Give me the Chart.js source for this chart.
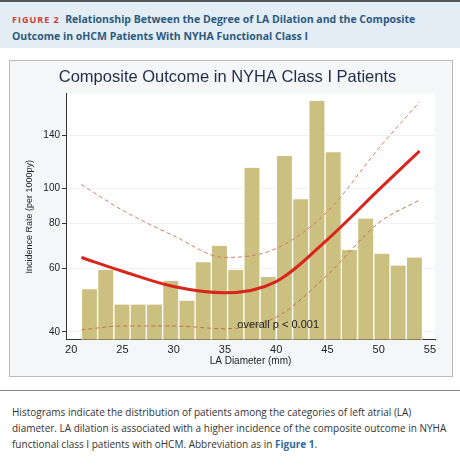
<!DOCTYPE html>
<html><head><meta charset="utf-8">
<script src="https://cdn.jsdelivr.net/npm/chart.js@4"></script>
<style>
body{margin:0;width:460px;height:474px;background:#fff;font-family:"Open Sans",sans-serif;position:relative;overflow:hidden}
#hdr{position:absolute;left:0;top:0;width:460px;height:46px;background:#e3edf5;border-top:2px solid #555}
#hdr div{position:absolute;left:12px;top:9px;font:bold 10.5px "Open Sans",sans-serif;color:#2c5a7e;line-height:16px}
#hdr span{color:#d23a3a;letter-spacing:1px;font-size:9px}
#panel{position:absolute;left:9px;top:60px;width:442px;height:315px;border:1px solid #bbb;background:#f4f6f8}
#cv{position:absolute;left:20px;top:62px}
#cap{position:absolute;left:12px;top:404px;width:440px;font:10px "Open Sans",sans-serif;color:#333;line-height:16px}
#cap b{color:#2c6aa0}
#line{position:absolute;left:0;top:390px;width:460px;border-top:1px solid #888}
</style></head><body>
<div id="hdr"><div><span>FIGURE 2</span>&nbsp; Relationship Between the Degree of LA Dilation and the Composite<br>Outcome in oHCM Patients With NYHA Functional Class I</div></div>
<div id="panel"></div>
<canvas id="cv" width="420" height="305"></canvas>
<div id="line"></div>
<div id="cap">Histograms indicate the distribution of patients among the categories of left atrial (LA) diameter. LA dilation is associated with a higher incidence of the composite outcome in NYHA functional class I patients with oHCM. Abbreviation as in <b>Figure 1</b>.</div>
<script>
const barStart = 21, barWidth = 1.585;
const barValues = [52.5,59.4,47.6,47.6,47.6,55.4,48.8,62.4,69.3,59.4,114,56.8,123,93.3,175,126,67.5,82.5,65.9,61.1,64.3];
const curveX = [21,25,30,35,40,45,50,54];
const fitY = [64.3,58.9,53.4,51.3,55.1,72.1,99,127];
const upperY = [102.5,87,73.9,64.3,68.1,86.2,129,174];
const lowerY = [40.5,41.5,41.5,40.8,43.9,57.5,80.2,92.9];
const yTicks = [40,60,80,100,140];
const xTicks = [20,25,30,35,40,45,50,55];

const bars = barValues.map((v,i)=>({x:barStart+barWidth*(i+0.5),y:v}));
const pts = a=>curveX.map((x,i)=>({x,y:a[i]}));
const ann = {id:'ann',afterDatasetsDraw(c){const g=c.ctx,xs=c.scales.x,ys=c.scales.y;g.save();g.font='11px Liberation Sans, Arial';g.fillStyle='#222';g.textAlign='center';g.textBaseline='bottom';g.fillText('overall p < 0.001',xs.getPixelForValue(40.2),ys.getPixelForValue(40.3));g.restore();}};
const bg = {id:'bg',beforeDraw(c){const g=c.ctx,a=c.chartArea;g.save();g.fillStyle='#fff';g.fillRect(a.left,a.top,a.right-a.left,a.bottom-a.top);g.restore();}};
new Chart(document.getElementById('cv'),{
 data:{datasets:[
  {type:'line',data:pts(fitY),borderColor:'#d8261c',borderWidth:3,pointRadius:0,cubicInterpolationMode:'monotone',order:0},
  {type:'line',data:pts(upperY),borderColor:'#d77a6e',borderWidth:1,borderDash:[4,3],pointRadius:0,cubicInterpolationMode:'monotone',order:1},
  {type:'line',data:pts(lowerY),borderColor:'#c8704a',borderWidth:1,borderDash:[4,3],pointRadius:0,cubicInterpolationMode:'monotone',order:1},
  {type:'bar',data:bars,backgroundColor:'#cbc080',borderColor:'#ffffff',borderWidth:{left:1,right:1},barPercentage:1,categoryPercentage:1,order:2}
 ]},
 options:{responsive:false,animation:false,
  layout:{padding:{left:0,right:5,top:0,bottom:0}},
  plugins:{legend:{display:false},tooltip:{enabled:false},
   title:{display:true,text:'Composite Outcome in NYHA Class I Patients',color:'#1f2d4a',font:{family:'Liberation Sans',size:16.5,weight:'normal'},padding:{top:6,bottom:6}}},
  scales:{
   x:{type:'linear',offset:false,min:19.5,max:55.5,afterBuildTicks:s=>{s.ticks=xTicks.map(v=>({value:v}))},
      grid:{display:false,offset:false,drawTicks:true,tickLength:4,tickColor:'#333'},border:{color:'#333'},
      ticks:{color:'#222',font:{family:'Liberation Sans',size:11},padding:0,maxRotation:0},
      title:{display:true,text:'LA Diameter (mm)',color:'#222',font:{family:'Liberation Sans',size:10},padding:{top:-2,bottom:0}}},
   y:{type:'logarithmic',min:38,max:183,afterBuildTicks:s=>{s.ticks=yTicks.map(v=>({value:v}))},afterFit:s=>{s.width=46},
      grid:{color:'#eef2f5',tickLength:4,tickColor:'#333'},border:{color:'#333'},
      ticks:{color:'#222',font:{family:'Liberation Sans',size:10},padding:2,callback:v=>String(v)},
      title:{display:true,text:'Incidence Rate (per 1000py)',color:'#222',font:{family:'Liberation Sans',size:9},padding:{bottom:2}}}
  }},
 plugins:[bg,ann]
});
</script></body></html>
